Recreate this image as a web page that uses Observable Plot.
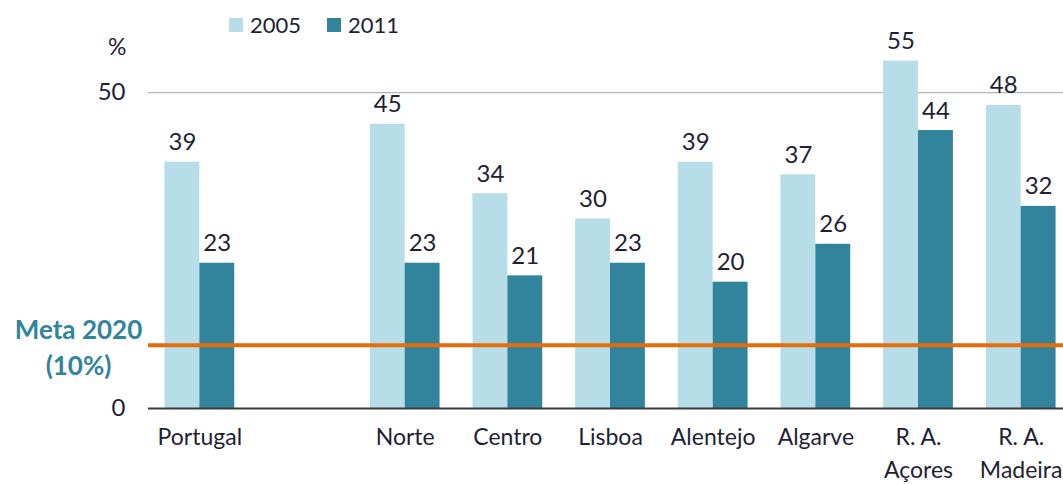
<!DOCTYPE html>
<html>
<head>
<meta charset="utf-8">
<script src="https://cdn.jsdelivr.net/npm/d3@7"></script>
<script src="https://cdn.jsdelivr.net/npm/@observablehq/plot@0.6"></script>
<style>
  html, body { margin: 0; padding: 0; background: #fff; overflow: hidden; }
  #wrap { position: relative; width: 1063px; height: 484px; font-family: Lato, "Open Sans", sans-serif; color: #1f1f33; }
  .leg { position: absolute; top: 11px; font-size: 22px; display: flex; align-items: center; }
  .sw { width: 14px; height: 14px; display: inline-block; margin-right: 7px; }
  #pct { position: absolute; left: 108px; top: 32px; font-size: 23px; }
</style>
</head>
<body>
<div id="wrap">
  <div class="leg" style="left:229px"><span class="sw" style="background:#B7DEE8"></span>2005</div>
  <div class="leg" style="left:327px"><span class="sw" style="background:#31849B"></span>2011</div>
  <div id="pct">%</div>
</div>
<script>
// Data (blank slot separates Portugal from the regions)
const categories = ["Portugal", "", "Norte", "Centro", "Lisboa", "Alentejo", "Algarve", "R. A.\nAçores", "R. A.\nMadeira"];
const values2005 = [39, null, 45, 34, 30, 39, 37, 55, 48];
const values2011 = [23, null, 23, 21, 23, 20, 26, 44, 32];
const years = ["2005", "2011"];
const yTicks = [0, 50];
const target = [10];
const targetLabel = "Meta 2020\n(10%)";

const colors = {"2005": "#B7DEE8", "2011": "#31849B"};
const half = 0.34;
const ink = "#1f1f33";

const table = categories.flatMap((c, i) => c === "" ? [] : [
  {cat: c, i, year: "2005", v: values2005[i]},
  {cat: c, i, year: "2011", v: values2011[i]}
]);
const cats = categories.map((c, i) => ({c, i})).filter(d => d.c !== "");

const plot = Plot.plot({
  width: 1063,
  height: 484,
  marginLeft: 148,
  marginRight: -9,
  marginTop: 29,
  marginBottom: 76,
  style: {fontFamily: "Lato, 'Open Sans', sans-serif", fontSize: "24px", color: ink, background: "transparent"},
  x: {type: "linear", domain: [-0.5, categories.length - 0.5], axis: null},
  y: {domain: [0, 60], axis: null},
  marks: [
    Plot.ruleY([50], {stroke: "#b5b5b5", strokeWidth: 1.2}),
    Plot.rectY(table, {
      x1: d => d.year === "2005" ? d.i - half : d.i,
      x2: d => d.year === "2005" ? d.i : d.i + half,
      y1: 0, y2: "v",
      fill: d => colors[d.year]
    }),
    Plot.ruleY([0], {stroke: "#3a3a3a", strokeWidth: 1.8}),
    Plot.ruleY(target, {stroke: "#E46C0A", strokeWidth: 4}),
    Plot.text(table, {
      x: d => d.year === "2005" ? d.i - half / 2 : d.i + half / 2,
      y: "v", text: d => String(d.v),
      lineAnchor: "bottom", dy: -12, fill: ink, fontSize: 24
    }),
    Plot.text(cats, {
      x: "i", y: () => 0, text: "c",
      lineAnchor: "top", dy: 14, lineHeight: 1.4, fill: ink, fontSize: 23
    }),
    Plot.axisY({ticks: yTicks, tickSize: 0, tickPadding: 23, fontSize: 24, label: null, fill: ink}),
    Plot.text(target, {
      y: d => d, frameAnchor: "left", dx: -70, text: () => targetLabel,
      textAnchor: "middle", lineAnchor: "middle", lineHeight: 1.4,
      fill: "#31849B", fontWeight: "bold", fontSize: 26
    })
  ]
});
plot.style.position = "absolute";
plot.style.left = "0";
plot.style.top = "0";
document.getElementById("wrap").prepend(plot);
</script>
</body>
</html>
